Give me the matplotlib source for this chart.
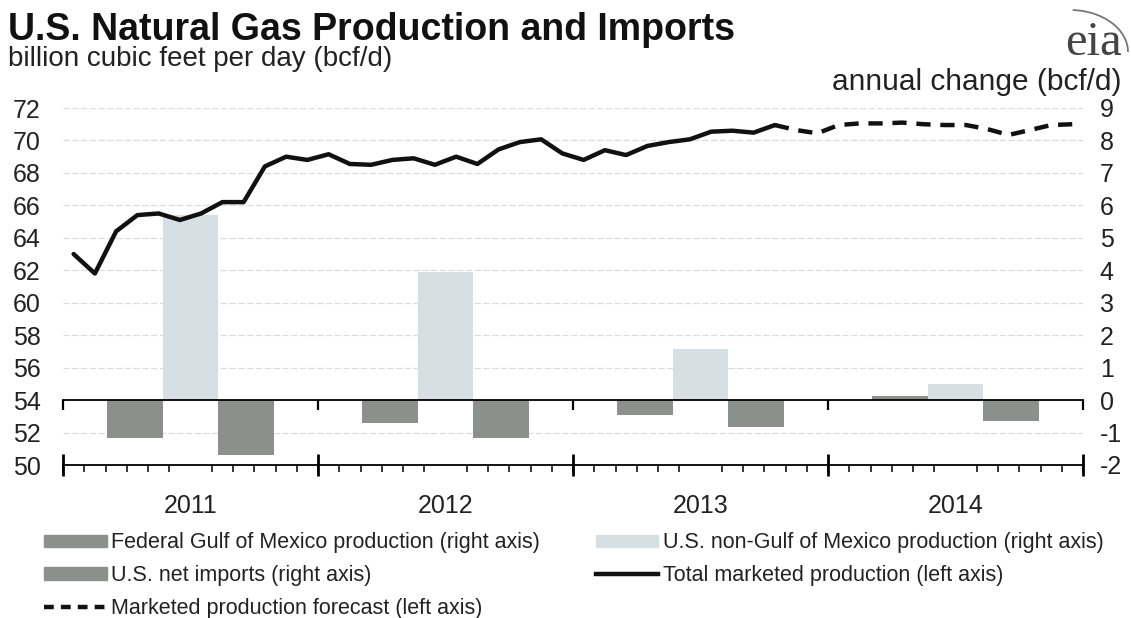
import numpy as np
import matplotlib.pyplot as plt
from matplotlib.patches import Patch, Arc
from matplotlib.lines import Line2D

plt.rcParams['font.family'] = ['Liberation Sans', 'DejaVu Sans']
plt.rcParams['axes.unicode_minus'] = False

years = ['2011', '2012', '2013', '2014']
# annual change, bcf/d (right axis)
federal_gom = [-1.17, -0.70, -0.47, 0.12]
non_gom = [5.7, 3.95, 1.57, 0.5]
net_imports = [-1.68, -1.17, -0.83, -0.65]

# monthly marketed production, bcf/d (left axis), Jan 2011 - Oct 2013
marketed = [63.0, 61.8, 64.4, 65.4, 65.5, 65.1, 65.5, 66.2, 66.2, 68.4, 69.0, 68.8,
            69.15, 68.55, 68.5, 68.8, 68.9, 68.5, 69.0, 68.55, 69.45, 69.9, 70.07, 69.2,
            68.8, 69.4, 69.1, 69.66, 69.9, 70.07, 70.54, 70.6, 70.48, 70.95]
# forecast Oct 2013 - Dec 2014
forecast = [70.95, 70.64, 70.44, 70.95, 71.05, 71.05, 71.1, 71.0, 70.95, 70.95,
            70.7, 70.34, 70.64, 70.95, 71.0]

dark = '#8b908d'
light = '#d6dfe3'
txt = '#222222'

W, H = 1131, 618
fig = plt.figure(figsize=(W / 100, H / 100), dpi=100)
ax = fig.add_axes([63 / W, 1 - 465 / H, (1083 - 63) / W, (465 - 108) / H])
ax2 = ax.twinx()
ax.set_zorder(ax2.get_zorder() + 1)
ax.patch.set_visible(False)

ax.set_xlim(0, 48)
ax.set_ylim(50, 72)
ax2.set_ylim(-2, 9)

# bars
n = len(years)
centers = np.arange(n) * 12 + 6
bw = 2.63
ax2.bar(centers - bw, federal_gom, bw, color=dark, zorder=2)
ax2.bar(centers, non_gom, bw, color=light, zorder=2)
ax2.bar(centers + bw, net_imports, bw, color=dark, zorder=2)

# lines
m1 = np.arange(len(marketed)) + 0.5
m2 = np.arange(len(marketed) - 1, len(marketed) - 1 + len(forecast)) + 0.5
ax.plot(m1, marketed, color='#111111', lw=3.2, solid_capstyle='round', solid_joinstyle='round')
ax.plot(m2, forecast, color='#111111', lw=3.2, dashes=(3.2, 2.2))

# axes styling
for s in ['left', 'right', 'top']:
    ax.spines[s].set_visible(False)
for s in ax2.spines.values():
    s.set_visible(False)
ax.spines['bottom'].set_linewidth(1.3)

ax.set_yticks(range(50, 73, 2))
ax.tick_params(axis='y', length=0, pad=16, labelsize=18, labelcolor=txt)
ax2.set_yticks(range(-2, 10))
ax2.tick_params(axis='y', length=0, pad=12, labelsize=18, labelcolor=txt)
ax2.grid(axis='y', color='#dcdcdc', lw=0.9, ls=(0, (5, 2)))
ax2.set_axisbelow(True)

ax.set_xticks(centers, years)
ax.set_xticks(np.arange(0, 49), minor=True)
ax.tick_params(axis='x', which='major', length=0, pad=21, labelsize=18, labelcolor=txt)
ax.tick_params(axis='x', which='minor', direction='out', length=5, width=1.1)

bounds = np.arange(0, 49, 12)
sec = ax.secondary_xaxis('bottom')
sec.set_xticks(bounds, [])
sec.tick_params(direction='inout', length=16, width=2)
sec.spines['bottom'].set_visible(False)

zero = ax.secondary_xaxis(4 / 22)
zero.set_xticks(bounds, [])
zero.tick_params(direction='out', length=7, width=1.6)
zero.spines['bottom'].set_linewidth(1.3)

# titles
fig.text(8 / W, 1 - 40 / H, 'U.S. Natural Gas Production and Imports',
         fontsize=27, fontweight='bold', color='#111111')
fig.text(8 / W, 1 - 66 / H, 'billion cubic feet per day (bcf/d)',
         fontsize=20, color=txt)
fig.text(1122 / W, 1 - 90 / H, 'annual change (bcf/d)', ha='right',
         fontsize=21.5, color=txt)
fig.text(1122 / W, 1 - 55 / H, 'eia', ha='right', fontsize=35,
         family=['Liberation Serif'], color='#444444')
fig.add_artist(Arc((1070 / W, 1 - 52 / H), 116 / W, 84 / H, theta1=0, theta2=88,
                   transform=fig.transFigure, color='#777777', lw=1.3))

handles = [Patch(color=dark), Patch(color=dark),
           Line2D([], [], color='#111111', lw=3.2, dashes=(2.2, 1.6)),
           Patch(color=light), Line2D([], [], color='#111111', lw=3.2)]
labels = ['Federal Gulf of Mexico production (right axis)', 'U.S. net imports (right axis)',
          'Marketed production forecast (left axis)',
          'U.S. non-Gulf of Mexico production (right axis)',
          'Total marketed production (left axis)']
fig.legend(handles, labels, ncol=2, loc='upper left', bbox_to_anchor=(25 / W, 1 - 513 / H),
           frameon=False, fontsize=15.5, handlelength=2.9, handleheight=0.5,
           handletextpad=0.2, columnspacing=2.6, labelspacing=0.55, labelcolor=txt)

fig.savefig('out.png', dpi=100)
